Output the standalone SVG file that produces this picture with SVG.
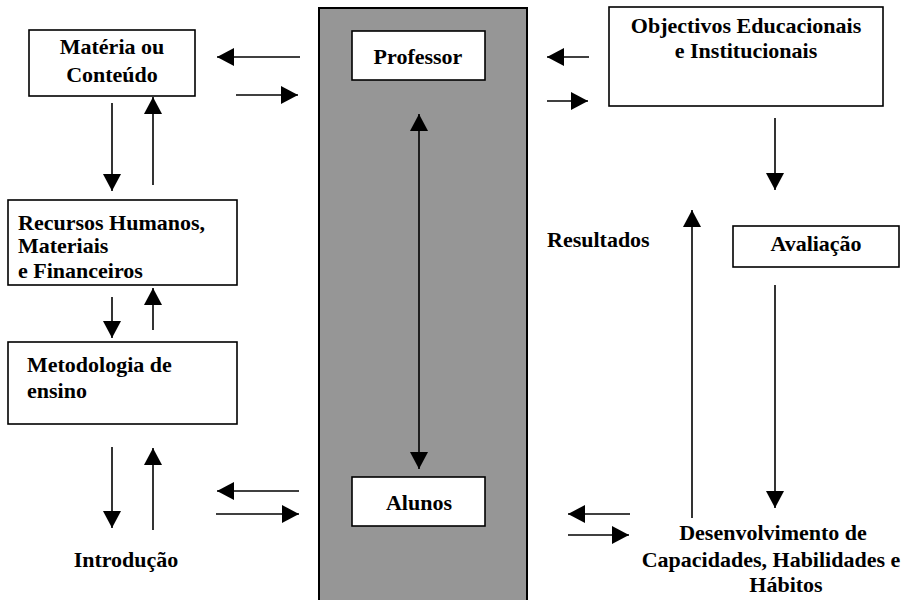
<svg xmlns="http://www.w3.org/2000/svg" width="919" height="600" viewBox="0 0 919 600">
<defs>
<style>
.box{fill:#fff;stroke:#000;stroke-width:1.6}
.t{font-family:"Liberation Serif","Times New Roman",serif;font-weight:bold;font-size:22px;fill:#000}
.c{text-anchor:middle}
.ln{stroke:#000;stroke-width:1.6;fill:none}
.a{marker-end:url(#ah)}
</style>
<marker id="ah" markerUnits="userSpaceOnUse" markerWidth="18" markerHeight="18" refX="17" refY="9" orient="auto">
<path d="M0,0 L17,9 L0,18 z" fill="#000"/>
</marker>
<marker id="as" markerUnits="userSpaceOnUse" markerWidth="18" markerHeight="18" refX="0" refY="9" orient="auto">
<path d="M17,0 L0,9 L17,18 z" fill="#000"/>
</marker>
</defs>
<rect width="919" height="600" fill="#fff"/>
<g id="centro">
<rect x="319" y="8" width="208" height="600" fill="#969696" stroke="#000" stroke-width="2"/>
</g>
<g id="materia">
<rect class="box" x="29" y="30" width="166" height="66"/>
<text class="t c" x="112" y="54">Matéria ou</text>
<text class="t c" x="112" y="82">Conteúdo</text>
</g>
<g id="professor">
<rect class="box" x="352" y="31" width="133" height="49"/>
<text class="t c" x="418" y="64">Professor</text>
</g>
<g id="objectivos">
<rect class="box" x="609" y="7" width="274" height="99"/>
<text class="t c" x="746" y="33">Objectivos Educacionais</text>
<text class="t c" x="746" y="58">e Institucionais</text>
</g>
<g id="avaliacao">
<rect class="box" x="733" y="226" width="166" height="41"/>
<text class="t c" x="816" y="251">Avaliação</text>
</g>
<g id="resultados">
<text class="t" x="547" y="247">Resultados</text>
</g>
<g id="recursos">
<rect class="box" x="8" y="200" width="229" height="85"/>
<text class="t" x="18" y="230">Recursos Humanos,</text>
<text class="t" x="18" y="253">Materiais</text>
<text class="t" x="18" y="278">e Financeiros</text>
</g>
<g id="metodologia">
<rect class="box" x="8" y="342" width="229" height="82"/>
<text class="t" x="27" y="372">Metodologia de</text>
<text class="t" x="27" y="398">ensino</text>
</g>
<g id="introducao">
<text class="t c" x="126" y="567">Introdução</text>
</g>
<g id="alunos">
<rect class="box" x="352" y="477" width="133" height="49"/>
<text class="t c" x="419" y="510">Alunos</text>
</g>
<g id="desenvolvimento">
<text class="t c" x="773" y="540">Desenvolvimento de</text>
<text class="t c" x="771" y="567">Capacidades, Habilidades e</text>
<text class="t c" x="786" y="592">Hábitos</text>
</g>
<g id="connectors">
<line class="ln a" x1="300" y1="57" x2="217" y2="57"/>
<line class="ln a" x1="236" y1="95" x2="298" y2="95"/>
<line class="ln a" x1="112" y1="103" x2="112" y2="191"/>
<line class="ln a" x1="153" y1="185" x2="153" y2="97"/>
<line class="ln a" x1="112" y1="297" x2="112" y2="338"/>
<line class="ln a" x1="153" y1="330" x2="153" y2="288"/>
<line class="ln a" x1="112" y1="447" x2="112" y2="528"/>
<line class="ln a" x1="153" y1="530" x2="153" y2="448"/>
<line class="ln a" x1="299" y1="491" x2="217" y2="491"/>
<line class="ln a" x1="216" y1="514" x2="299" y2="514"/>
<line class="ln a" x1="419" y1="114" x2="419" y2="469" marker-start="url(#as)"/>
<line class="ln a" x1="589" y1="57" x2="547" y2="57"/>
<line class="ln a" x1="547" y1="101" x2="588" y2="101"/>
<line class="ln a" x1="775" y1="118" x2="775" y2="190"/>
<line class="ln a" x1="692" y1="518" x2="692" y2="210"/>
<line class="ln a" x1="775" y1="285" x2="775" y2="508"/>
<line class="ln a" x1="630" y1="514" x2="568" y2="514"/>
<line class="ln a" x1="568" y1="535" x2="629" y2="535"/>
</g>
</svg>
